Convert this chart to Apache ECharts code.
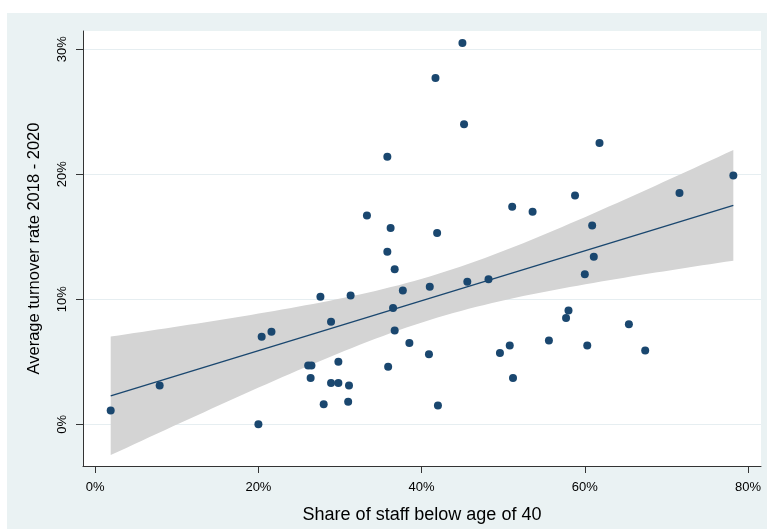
<!DOCTYPE html>
<html>
<head>
<meta charset="utf-8">
<script src="https://cdn.jsdelivr.net/npm/echarts@6/dist/echarts.min.js"></script>
<style>
html, body { margin: 0; padding: 0; background: #fff; }
#chart { position: absolute; left: 7px; top: 13px; width: 760px; height: 516px; }
</style>
</head>
<body>
<div id="chart"></div>
<script>
// share of staff below age 40 (%) and average turnover 2018-2020 (%)
var shareUnder40 = [1.9, 7.9, 20.0, 20.4, 21.6, 26.1, 26.5, 26.4, 27.6, 28.0,
    28.9, 28.9, 29.8, 29.8, 31.1, 31.0, 31.3, 33.3, 35.8, 35.8,
    36.2, 36.7, 35.9, 36.5, 36.7, 37.7, 38.5, 41.0, 40.9, 41.7,
    41.9, 42.0, 45.0, 45.2, 45.6, 48.2, 49.6, 50.8, 51.1, 51.2,
    53.6, 55.6, 57.7, 58.0, 58.8, 60.0, 60.3, 60.9, 61.1, 61.8,
    65.4, 67.4, 71.6, 78.2];
var turnover = [1.1, 3.1, 0.0, 7.0, 7.4, 4.7, 4.7, 3.7, 10.2, 1.6,
    8.2, 3.3, 3.3, 5.0, 3.1, 1.8, 10.3, 16.7, 21.4, 13.8,
    15.7, 12.4, 4.6, 9.3, 7.5, 10.7, 6.5, 11.0, 5.6, 27.7,
    15.3, 1.5, 30.5, 24.0, 11.4, 11.6, 5.7, 6.3, 17.4, 3.7,
    17.0, 6.7, 8.5, 9.1, 18.3, 12.0, 6.3, 15.9, 13.4, 22.5,
    8.0, 5.9, 18.5, 19.9];
var xTicks = [0, 20, 40, 60, 80];
var yTicks = [0, 10, 20, 30];

var fontName = "'Liberation Sans Narrow', 'Arial Narrow', 'Liberation Sans', sans-serif";

// linear fit + 95% CI of the mean prediction (like lfitci)
var n = shareUnder40.length;
var xbar = 0, ybar = 0;
for (var i = 0; i < n; i++) { xbar += shareUnder40[i]; ybar += turnover[i]; }
xbar /= n; ybar /= n;
var sxx = 0, sxy = 0;
for (var i = 0; i < n; i++) {
    sxx += (shareUnder40[i] - xbar) * (shareUnder40[i] - xbar);
    sxy += (shareUnder40[i] - xbar) * (turnover[i] - ybar);
}
var slope = sxy / sxx;
var icpt = ybar - slope * xbar;
var sse = 0;
for (var i = 0; i < n; i++) {
    var r = turnover[i] - (icpt + slope * shareUnder40[i]);
    sse += r * r;
}
var s = Math.sqrt(sse / (n - 2));
var tval = 2.0066;
var xmin = Math.min.apply(null, shareUnder40);
var xmax = Math.max.apply(null, shareUnder40);
var band = [];
var fitLine = [];
for (var k = 0; k <= 80; k++) {
    var x = xmin + (xmax - xmin) * k / 80;
    var yhat = icpt + slope * x;
    var se = s * Math.sqrt(1 / n + (x - xbar) * (x - xbar) / sxx);
    band.push([x, yhat + tval * se, yhat - tval * se]);
}
fitLine.push([xmin, icpt + slope * xmin], [xmax, icpt + slope * xmax]);

var points = shareUnder40.map(function (v, i) { return [v, turnover[i]]; });

var chart = echarts.init(document.getElementById('chart'));
var option = {
    backgroundColor: '#eaf2f3',
    animation: false,
    grid: {
        left: 76, top: 18, right: 6, bottom: 63,
        show: true, backgroundColor: '#fff', borderWidth: 0
    },
    xAxis: {
        type: 'value',
        min: -1.495, max: 81.59,
        name: 'Share of staff below age of 40',
        nameLocation: 'middle',
        nameGap: 40,
        nameTextStyle: { fontFamily: fontName, fontSize: 18, color: '#000' },
        axisLine: { show: true, onZero: false, lineStyle: { color: '#333', width: 1 } },
        axisTick: { show: true, length: 7, customValues: xTicks, lineStyle: { color: '#333' } },
        axisLabel: {
            customValues: xTicks, margin: 15,
            fontFamily: fontName, fontSize: 13, color: '#000',
            formatter: '{value}%'
        },
        splitLine: { show: false }
    },
    yAxis: {
        type: 'value',
        min: -3.336, max: 31.46,
        name: 'Average turnover rate 2018 - 2020',
        nameLocation: 'middle',
        nameGap: 40,
        nameTextStyle: { fontFamily: fontName, fontSize: 16.5, color: '#000' },
        axisLine: { show: true, onZero: false, lineStyle: { color: '#333', width: 1 } },
        axisTick: { show: true, length: 7, customValues: yTicks, lineStyle: { color: '#333' } },
        axisLabel: {
            customValues: yTicks, margin: 14, rotate: 90,
            fontFamily: fontName, fontSize: 13, color: '#000',
            formatter: '{value}%'
        },
        splitLine: { show: true, lineStyle: { color: '#e6eef1', width: 1.2 } }
    },
    series: [
        {
            type: 'custom',
            silent: true,
            z: 1,
            data: [0],
            renderItem: function (params, api) {
                var pts = [];
                band.forEach(function (b) { pts.push(api.coord([b[0], b[1]])); });
                for (var j = band.length - 1; j >= 0; j--) {
                    pts.push(api.coord([band[j][0], band[j][2]]));
                }
                return { type: 'polygon', shape: { points: pts }, style: { fill: '#d4d4d4' } };
            }
        },
        {
            type: 'line',
            data: fitLine,
            showSymbol: false,
            silent: true,
            z: 2,
            lineStyle: { color: '#1a476f', width: 1.4 }
        },
        {
            type: 'scatter',
            data: points,
            symbolSize: 8,
            z: 3,
            itemStyle: { color: '#1a476f', opacity: 1 }
        }
    ]
};
chart.setOption(option);
</script>
</body>
</html>
